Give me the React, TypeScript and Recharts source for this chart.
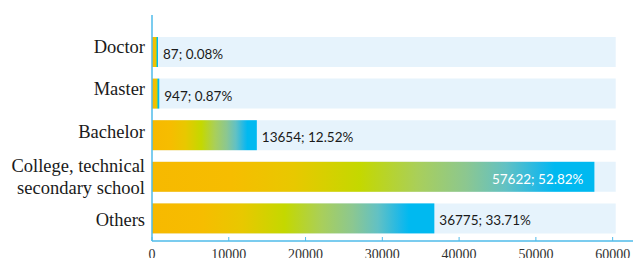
import { Bar, BarChart, LabelList, XAxis, YAxis } from 'recharts'

// categories, top to bottom; "\n" marks a line break in the axis label
const categories = [
    'Doctor',
    'Master',
    'Bachelor',
    'College, technical\nsecondary school',
    'Others',
]
const counts = [87, 947, 13654, 57622, 36775]
const shares = [0.08, 0.87, 12.52, 52.82, 33.71]
// the pale track behind each bar runs a little past 60000
const trackValue = 60400
const xTicks = [0, 10000, 20000, 30000, 40000, 50000, 60000]

const rows = categories.map((name, i) => ({
    name,
    count: counts[i],
    share: shares[i],
    track: trackValue,
}))

const AXIS_BLUE = '#4fbbea'
const TRACK_BLUE = '#e6f3fc'
const SERIF = "'Liberation Serif', 'Times New Roman', serif"
// the source lays its category labels on a slightly wider pitch than the bars
const LABEL_NUDGE = [-5, -4, -3.5, 0.5, 2]

function CategoryTick(props: any) {
    const { x, y, payload, index } = props
    const lines = String(payload.value).split('\n')
    const lineH = 21.5
    const first = y + (LABEL_NUDGE[index] ?? 0) - ((lines.length - 1) * lineH) / 2
    return (
        <text
            x={x + 1}
            y={first}
            textAnchor="end"
            dominantBaseline="central"
            fontFamily={SERIF}
            fontSize={18.5}
            fill="#1a1a1a"
        >
            {lines.map((l, i) => (
                <tspan key={i} x={x + 1} y={first + i * lineH} dominantBaseline="central">
                    {l}
                </tspan>
            ))}
        </text>
    )
}

function ValueLabel(props: any) {
    const { x, y, width, height, index } = props
    const text = `${counts[index]}; ${shares[index].toFixed(2)}%`
    const end = x + width
    // no room left on the track -> write it inside the bar, in white
    const inside = end + 100 > 615
    return (
        <text
            x={inside ? end - 11 : end + 5}
            y={y + height / 2 + 2}
            textAnchor={inside ? 'end' : 'start'}
            dominantBaseline="central"
            fontFamily="Lato, 'Open Sans', sans-serif"
            fontSize={13.5}
            fill={inside ? '#ffffff' : '#1a1a1a'}
        >
            {text}
        </text>
    )
}

// very short bars only show the orange body and a cyan cap
function GradientBar(props: any) {
    const { x, y, width, height } = props
    const fill = width < 20 ? 'url(#edu-bar-short)' : 'url(#edu-bar-fill)'
    return <rect x={x} y={y} width={width} height={height} fill={fill} />
}

export default function App() {
    return (
        <div style={{ position: 'absolute', left: 0, top: 0 }}>
            <BarChart
                width={633}
                height={258}
                data={rows}
                layout="vertical"
                margin={{ top: 15, right: 0, bottom: 0, left: 0 }}
                barSize={30}
                barGap={-30}
            >
                <defs>
                    <linearGradient id="edu-bar-fill" x1="0" y1="0" x2="1" y2="0">
                        <stop offset="0%" stopColor="#f7b900" />
                        <stop offset="18%" stopColor="#f6bd00" />
                        <stop offset="32%" stopColor="#e8c800" />
                        <stop offset="47%" stopColor="#c4d800" />
                        <stop offset="60%" stopColor="#a9cf5a" />
                        <stop offset="71%" stopColor="#8cc790" />
                        <stop offset="80%" stopColor="#62c1c4" />
                        <stop offset="88%" stopColor="#1cb8e8" />
                        <stop offset="91%" stopColor="#00b9f0" />
                        <stop offset="100%" stopColor="#00b9f0" />
                    </linearGradient>
                    <linearGradient id="edu-bar-short" x1="0" y1="0" x2="1" y2="0">
                        <stop offset="0%" stopColor="#f7b900" />
                        <stop offset="55%" stopColor="#f3bf00" />
                        <stop offset="70%" stopColor="#c4d800" />
                        <stop offset="82%" stopColor="#00b9f0" />
                        <stop offset="100%" stopColor="#00b9f0" />
                    </linearGradient>
                </defs>
                <XAxis
                    type="number"
                    domain={[0, 62650]}
                    ticks={xTicks}
                    interval={0}
                    height={17}
                    axisLine={{ stroke: AXIS_BLUE, strokeWidth: 1.5 }}
                    tickLine={{ stroke: AXIS_BLUE }}
                    tickSize={-4}
                    tickMargin={12}
                    tick={{ fontSize: 14, fill: '#333333', fontFamily: SERIF }}
                />
                <YAxis
                    type="category"
                    dataKey="name"
                    width={152}
                    padding={{ top: 16, bottom: 2 }}
                    axisLine={{ stroke: AXIS_BLUE, strokeWidth: 1.5 }}
                    tickLine={false}
                    tick={<CategoryTick />}
                    interval={0}
                />
                <Bar dataKey="track" fill={TRACK_BLUE} isAnimationActive={false} />
                <Bar
                    dataKey="count"
                    shape={<GradientBar />}
                    minPointSize={6}
                    isAnimationActive={false}
                >
                    <LabelList dataKey="count" content={<ValueLabel />} />
                </Bar>
            </BarChart>
        </div>
    )
}
